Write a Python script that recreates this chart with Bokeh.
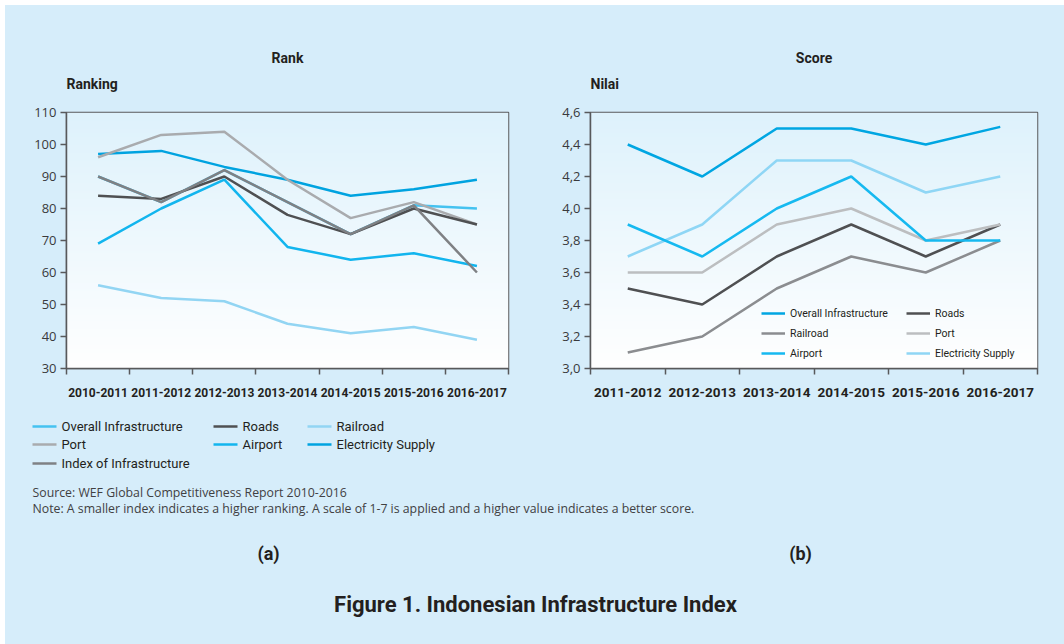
import numpy as np
from bokeh.plotting import figure
from bokeh.models import Range1d, FixedTicker, Legend, LegendItem, Label, ColumnDataSource
from bokeh.layouts import row, column
from bokeh.embed import file_html
from bokeh.resources import INLINE
from bokeh.core.properties import value

# ---------------- data ----------------
rank_years = ["2010-2011", "2011-2012", "2012-2013", "2013-2014", "2014-2015", "2015-2016", "2016-2017"]
rank_overall = [90, 82, 92, 82, 72, 81, 80]
rank_roads = [84, 83, 90, 78, 72, 80, 75]
rank_railroad = [56, 52, 51, 44, 41, 43, 39]
rank_port = [96, 103, 104, 89, 77, 82, 75]
rank_airport = [69, 80, 89, 68, 64, 66, 62]
rank_electricity = [97, 98, 93, 89, 84, 86, 89]
rank_index = [90, 82, 92, 82, 72, 81, 60]
rank_ticks = [30, 40, 50, 60, 70, 80, 90, 100, 110]

score_years = ["2011-2012", "2012-2013", "2013-2014", "2014-2015", "2015-2016", "2016-2017"]
score_overall = [4.4, 4.2, 4.5, 4.5, 4.4, 4.51]
score_roads = [3.5, 3.4, 3.7, 3.9, 3.7, 3.9]
score_railroad = [3.1, 3.2, 3.5, 3.7, 3.6, 3.8]
score_port = [3.6, 3.6, 3.9, 4.0, 3.8, 3.9]
score_airport = [3.9, 3.7, 4.0, 4.2, 3.8, 3.8]
score_electricity = [3.7, 3.9, 4.3, 4.3, 4.1, 4.2]
score_ticks = [3.0, 3.2, 3.4, 3.6, 3.8, 4.0, 4.2, 4.4, 4.6]

rank_names = ["Overall Infrastructure", "Roads", "Railroad", "Port", "Airport",
              "Electricity Supply", "Index of Infrastructure"]
rank_series = [rank_overall, rank_roads, rank_railroad, rank_port, rank_airport,
               rank_electricity, rank_index]
rank_colors = ["#45c2f0", "#4f5052", "#92d5f3", "#a9abae", "#12b5ee", "#00a3e0", "#7f8184"]

score_names = ["Overall Infrastructure", "Roads", "Railroad", "Port", "Airport", "Electricity Supply"]
score_series = [score_overall, score_roads, score_railroad, score_port, score_airport,
                score_electricity]
score_colors = ["#00a6e2", "#4f5052", "#8b8d90", "#bcbec0", "#16b9f0", "#8fd6f5"]

chart_titles = ["Rank", "Score"]
chart_ylabels = ["Ranking", "Nilai"]
source_text = "Source: WEF Global Competitiveness Report 2010-2016"
note_text = ("Note: A smaller index indicates a higher ranking. A scale of 1-7 is applied "
             "and a higher value indicates a better score.")
caption_text = "Figure 1. Indonesian Infrastructure Index"
panel_tags = ["(a)", "(b)"]

# ---------------- style / layout ----------------
BG = "#d6edfa"
AXIS = "#58595b"
TXT = "#231f20"
FONT = "Roboto"
PAGE_X0, PAGE_Y0 = 5, 5          # white page margin
HEAD_H = 95                      # header band height
TOP_H = 310                      # chart row height
FRAMES = [(66, 508), (590, 1037)]  # page x extents of the two plot frames


def gradient(n=128):
    img = np.empty((n, 1), dtype=np.uint32)
    v = img.view(dtype=np.uint8).reshape((n, 1, 4))
    top = np.array([222, 242, 252])
    t = np.linspace(0, 1, n)[:, None]  # row 0 = bottom
    cols = 255 * (1 - t) + top * t
    v[:, 0, 0] = cols[:, 0]
    v[:, 0, 1] = cols[:, 1]
    v[:, 0, 2] = cols[:, 2]
    v[:, 0, 3] = 255
    return img


def make_chart(cats, ymin, ymax, yticks, ylabels, width, bl, br, xfs):
    n = len(cats)
    p = figure(width=width, height=TOP_H, x_range=Range1d(0, n), y_range=Range1d(ymin, ymax),
               output_backend="svg", toolbar_location=None, title=None,
               min_border_left=bl, min_border_right=br, min_border_top=12, min_border_bottom=42)
    p.background_fill_color = "white"
    p.border_fill_color = BG
    p.outline_line_color = AXIS
    p.outline_line_width = 1.5
    p.grid.visible = False
    p.image_rgba(image=[gradient()], x=0, y=ymin, dw=n, dh=ymax - ymin)

    xa = p.xaxis[0]
    xa.ticker = FixedTicker(ticks=[i + 0.5 for i in range(n)], minor_ticks=list(range(n + 1)))
    xa.major_label_overrides = {i + 0.5: c for i, c in enumerate(cats)}
    xa.major_tick_out = 0
    xa.major_tick_in = 0
    xa.minor_tick_out = 6
    xa.minor_tick_in = 0
    xa.minor_tick_line_color = AXIS
    xa.minor_tick_line_width = 1.5
    xa.axis_line_color = AXIS
    xa.axis_line_width = 1.5
    xa.major_label_standoff = 13
    xa.major_label_text_font = FONT
    xa.major_label_text_font_style = "bold"
    xa.major_label_text_font_size = xfs
    xa.major_label_text_color = TXT

    ya = p.yaxis[0]
    ya.ticker = FixedTicker(ticks=yticks, minor_ticks=[])
    ya.major_label_overrides = dict(zip(yticks, ylabels))
    ya.major_tick_out = 6
    ya.major_tick_in = 0
    ya.major_tick_line_color = AXIS
    ya.major_tick_line_width = 1.5
    ya.axis_line_color = AXIS
    ya.axis_line_width = 1.5
    ya.major_label_standoff = 4
    ya.major_label_text_font = "Open Sans"
    ya.major_label_text_font_size = "13px"
    ya.major_label_text_color = "#3a3a3c"
    return p


def band(height):
    W = 1064 - PAGE_X0
    b = figure(width=W, height=height, x_range=Range1d(0, W), y_range=Range1d(height, 0),
               output_backend="svg", toolbar_location=None,
               min_border_left=0, min_border_right=0, min_border_top=0, min_border_bottom=0)
    b.axis.visible = False
    b.grid.visible = False
    b.outline_line_color = None
    b.background_fill_color = BG
    b.border_fill_color = BG
    return b


# ---------------- header band (chart titles) ----------------
p0 = band(HEAD_H)
for (fx0, fx1), t, yl in zip(FRAMES, chart_titles, chart_ylabels):
    p0.add_layout(Label(x=(fx0 + fx1) / 2 - PAGE_X0, y=57 - PAGE_Y0, text=t, text_font=FONT,
                        text_font_style="bold", text_font_size="14px", text_color=TXT,
                        text_align="center", text_baseline="middle"))
    p0.add_layout(Label(x=fx0 - PAGE_X0, y=83 - PAGE_Y0, text=yl, text_font=FONT,
                        text_font_style="bold", text_font_size="14px", text_color=TXT,
                        text_align="left", text_baseline="middle"))

# ---------------- left chart ----------------
split = 550
p1 = make_chart(rank_years, 30, 110, rank_ticks, [str(t) for t in rank_ticks],
                split - PAGE_X0, FRAMES[0][0] - PAGE_X0, split - FRAMES[0][1], "12px")
xs1 = [i + 0.5 for i in range(len(rank_years))]
for k in [0, 2, 5, 3, 1, 4, 6]:
    p1.line(xs1, rank_series[k], line_color=rank_colors[k], line_width=2.5)

# ---------------- right chart ----------------
p2 = make_chart(score_years, 3.0, 4.6, score_ticks,
                [f"{t:.1f}".replace(".", ",") for t in score_ticks],
                1064 - split, FRAMES[1][0] - split, 1064 - FRAMES[1][1], "13.5px")
xs2 = [i + 0.5 for i in range(len(score_years))]
rends = {}
for k in [2, 1, 3, 5, 4, 0]:
    rends[k] = p2.line(xs2, score_series[k], line_color=score_colors[k], line_width=2.5)
leg = Legend(items=[LegendItem(label=score_names[k], renderers=[rends[k]]) for k in range(6)],
             orientation="horizontal", ncols=2, location=(171, 7),
             glyph_width=24, glyph_height=16, label_height=16, label_width=112,
             label_standoff=5, spacing=4, padding=0, margin=0,
             border_line_alpha=0, background_fill_alpha=0,
             label_text_font=FONT, label_text_font_size="10.5px", label_text_color=TXT)
p2.add_layout(leg)

# ---------------- bottom band ----------------
Y0 = PAGE_Y0 + HEAD_H + TOP_H
p3 = band(644 - Y0)
X0 = PAGE_X0

col_x = [32, 213, 307]
row_y = [426, 444, 463]
sx0, sx1, sy, tx = [], [], [], []
for i, name in enumerate(rank_names):
    r, c = divmod(i, 3)
    sx0.append(col_x[c] - X0)
    sx1.append(col_x[c] + 24 - X0)
    sy.append(row_y[r] - Y0)
    tx.append(col_x[c] + 29 - X0)
src = ColumnDataSource(dict(x0=sx0, x1=sx1, y=sy, tx=tx, name=rank_names, color=rank_colors))
p3.segment(x0="x0", y0="y", x1="x1", y1="y", line_color="color", line_width=2.5, source=src)
p3.text(x="tx", y="y", text="name", text_font=value(FONT), text_font_size="13px",
        text_color=TXT, text_baseline="middle", source=src)

for txt, yy in [(source_text, 492), (note_text, 508)]:
    p3.add_layout(Label(x=32 - X0, y=yy - Y0, text=txt, text_font="Open Sans",
                        text_font_size="12.3px", text_color="#414042", text_baseline="middle"))
for txt, xx in zip(panel_tags, [268, 800]):
    p3.add_layout(Label(x=xx - X0, y=553 - Y0, text=txt, text_font=FONT, text_font_style="bold",
                        text_font_size="18px", text_color=TXT, text_align="center",
                        text_baseline="middle"))
p3.add_layout(Label(x=535 - X0, y=604 - Y0, text=caption_text, text_font=FONT,
                    text_font_style="bold", text_font_size="22px", text_color=TXT,
                    text_align="center", text_baseline="middle"))

bgstyle = {"background-color": BG}
page = column(p0, row(p1, p2, spacing=0, styles=bgstyle), p3, spacing=0,
              margin=(PAGE_Y0, 0, 0, PAGE_X0), styles=bgstyle)
open("out.html", "w").write(file_html(page, INLINE))
